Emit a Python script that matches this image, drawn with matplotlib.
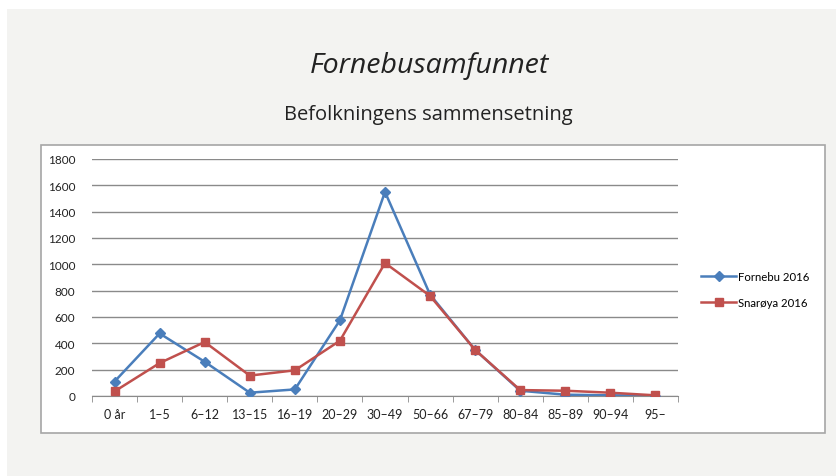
import matplotlib.pyplot as plt
from matplotlib.patches import Rectangle
import numpy as np

categories = ["0 år", "1–5", "6–12", "13–15", "16–19", "20–29", "30–49",
              "50–66", "67–79", "80–84", "85–89", "90–94", "95–"]
fornebu = [110, 475, 260, 25, 50, 575, 1550, 770, 350, 40, 10, 5, 3]
snaroya = [35, 250, 410, 155, 195, 420, 1010, 760, 350, 45, 40, 25, 5]
y_ticks = [0, 200, 400, 600, 800, 1000, 1200, 1400, 1600, 1800]

W, H = 837, 477
fig = plt.figure(figsize=(W / 100, H / 100), dpi=100)
fig.patch.set_facecolor("white")

# grey page background and white chart box (pixel coords -> figure fraction)
def box(x0, y0, x1, y1, **kw):
    fig.patches.append(Rectangle((x0 / W, 1 - y1 / H), (x1 - x0) / W, (y1 - y0) / H,
                                 transform=fig.transFigure, **kw))

box(7, 10, 838, 478, facecolor="#f3f3f1", edgecolor="none", zorder=0)
box(41, 146, 825, 434, facecolor="white", edgecolor="#a6a6a6", lw=1.2, zorder=1)

fig.text(429 / W, 1 - 66 / H, "Fornebusamfunnet", ha="center", va="center",
         fontsize=20.5, style="italic", family="Open Sans", color="#222222")
fig.text(428 / W, 1 - 115 / H, "Befolkningens sammensetning", ha="center", va="center",
         fontsize=14.5, family="Open Sans", color="#222222")

ax = fig.add_axes([92 / W, 1 - 397 / H, 586 / W, 237 / H])
ax.set_zorder(2)
ax.set_facecolor("none")
x = np.arange(len(categories))

ax.plot(x, fornebu, color="#4a7ebb", lw=1.8, marker="D", ms=4.8, label="Fornebu 2016", zorder=3)
ax.plot(x, snaroya, color="#c0504d", lw=1.8, marker="s", ms=6.3, label="Snarøya 2016", zorder=4)

ax.set_xlim(-0.5, len(categories) - 0.5)
ax.set_ylim(0, 1800)
ax.set_yticks(y_ticks)
ax.yaxis.grid(True, color="#8a8a8a", lw=1)
ax.set_axisbelow(True)
for s in ["top", "right", "left"]:
    ax.spines[s].set_visible(False)
ax.spines["bottom"].set_color("#8a8a8a")
ax.tick_params(axis="y", length=0, labelsize=8.5, pad=12, labelcolor="#222222")
for lab in ax.get_yticklabels():
    lab.set_family("Lato")
ax.set_xticks(x)
ax.set_xticklabels(categories, family="Lato", fontsize=9, color="#222222")
ax.tick_params(axis="x", which="major", length=0, pad=9)
ax.set_xticks(np.arange(-0.5, len(categories), 1), minor=True)
ax.tick_params(axis="x", which="minor", length=4, color="#8a8a8a")

leg = ax.legend(loc="center left", bbox_to_anchor=(1.022, 0.45), frameon=False,
                prop={"family": "Lato", "size": 8.2}, handlelength=3.1,
                handletextpad=0.15, labelspacing=1.3)

fig.savefig("out.png", dpi=100, facecolor=fig.get_facecolor())
